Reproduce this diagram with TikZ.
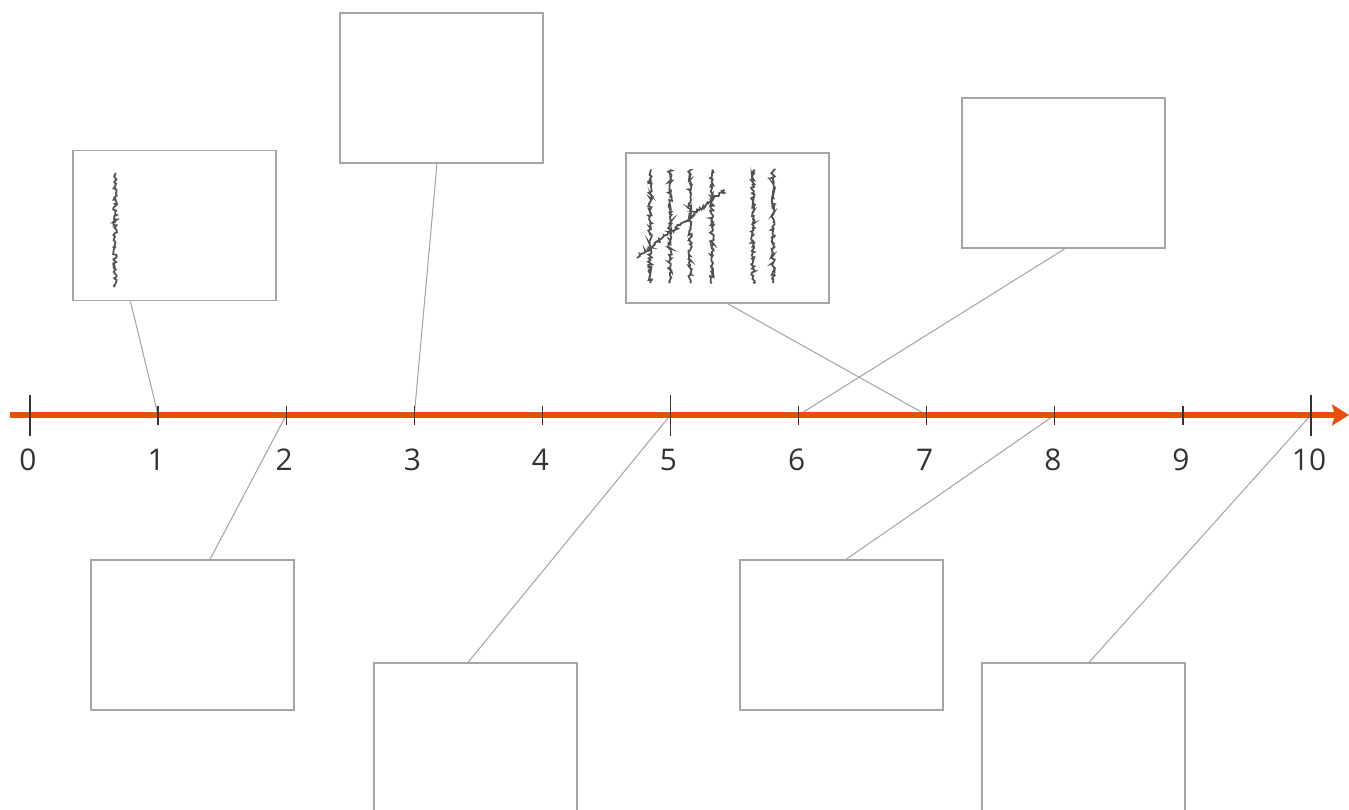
\documentclass[tikz,border=0pt]{standalone}
\usepackage{fontspec}
\setmainfont{Open Sans}
\usepackage{xcolor}
\usepackage{tikz}
\usetikzlibrary{positioning,calc,arrows.meta,decorations.pathmorphing}

\definecolor{axisorange}{HTML}{E8500A}
\definecolor{boxgray}{HTML}{A6A6A6}
\definecolor{inkgray}{HTML}{333333}

\begin{document}
\begin{tikzpicture}[
  x=0.02cm, y=-0.02cm,
  card/.style={draw=boxgray, line width=0.7pt, fill=white, inner sep=0pt,
               minimum width=4.06cm, minimum height=3cm},
  link/.style={draw=boxgray, line width=0.6pt},
  axis/.style={draw=axisorange, line width=2.9pt,
               -{Stealth[length=0.34cm,width=0.42cm,inset=0.06cm]}},
  tick/.style={draw=inkgray, line width=0.75pt},
  lbl/.style={text=inkgray, font=\fontsize{17}{20}\selectfont, inner sep=0pt},
  tally/.style={draw=inkgray!85, line width=1pt, decorate,
                decoration={random steps, segment length=0.8pt, amplitude=1.1pt}}
]
  \useasboundingbox (0,0) rectangle (1349,810);
  \pgfmathsetseed{7}

  % Cards
  \node[card] (c1) at (174.5,225.5) {};
  \node[card] (c3) at (441.5,88) {};
  \node[card] (c7) at (727.5,228) {};
  \node[card] (c6) at (1063.5,173) {};
  \node[card] (c2) at (192.5,635) {};
  \node[card] (c5) at (475.5,738) {};
  \node[card] (c8) at (841.5,635) {};
  \node[card] (c10) at (1083.5,738) {};

  % Tally marks
  \draw[tally] (115,173) -- (115,287);
  \foreach \x in {650,670,690,712,753,773}
    \draw[tally] (\x,170) -- (\x,283);
  \draw[tally] (637,258) -- (725,190);

  % Ticks positions
  \coordinate (start) at (10,415);
  \coordinate (end) at (1349,415);
  \foreach \i in {0,...,10}
    \coordinate (t\i) at ({30+128.1*\i},415);

  % Links
  \draw[link] ($(c1.south west)+(58,0)$) -- (t1);
  \draw[link] ($(c3.south)+(-4.5,0)$) -- (t3);
  \draw[link] (c7.south) -- (t7);
  \draw[link] ($(c6.south)+(1.5,0)$) -- (t6);
  \draw[link] ($(c2.north)+(17.5,0)$) -- (t2);
  \draw[link] ($(c5.north)+(-7.5,0)$) -- (t5);
  \draw[link] ($(c8.north)+(4.5,0)$) -- (t8);
  \draw[link] ($(c10.north)+(5.5,0)$) -- (t10);

  % Axis
  \draw[axis] (start) -- (end);
  \foreach \i in {1,2,3,4,6,7,8,9}
    \draw[tick] ($(t\i)+(0,-9)$) -- ($(t\i)+(0,10)$);
  \foreach \i in {0,5,10}
    \draw[tick] ($(t\i)+(0,-20)$) -- ($(t\i)+(0,21)$);

  % Labels
  \foreach \i in {0,...,10}
    \node[lbl] (l\i) at ($(t\i)+(-2,45)$) {\i};
\end{tikzpicture}
\end{document}
